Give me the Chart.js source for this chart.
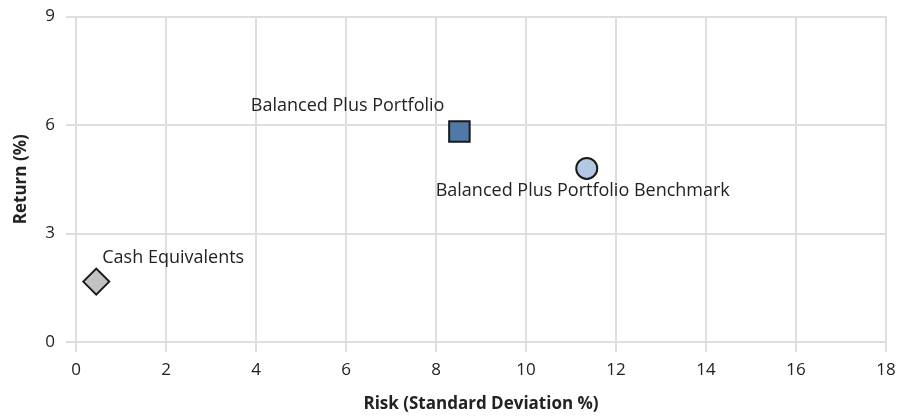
<!DOCTYPE html>
<html>
<head>
<meta charset="utf-8">
<script src="https://cdn.jsdelivr.net/npm/chart.js@4"></script>
<style>
  html, body { margin: 0; padding: 0; background: #fff; }
  #wrap { width: 908px; height: 417px; }
</style>
</head>
<body>
<div id="wrap"><canvas id="chart" width="908" height="417"></canvas></div>
<script>
  // values
  const names = ["Balanced Plus Portfolio", "Balanced Plus Portfolio Benchmark", "Cash Equivalents"];
  const risk = [8.52, 11.35, 0.45];
  const returns = [5.82, 4.8, 1.67];
  const xTicks = [0, 2, 4, 6, 8, 10, 12, 14, 16, 18];
  const yTicks = [0, 3, 6, 9];

  // styling
  const shapes = ["rect", "circle", "rectRot"];
  const radii = [14.5, 10.5, 13];
  const fills = ["#4f7aa8", "#b3c8e2", "#c2c2c2"];
  const labelPlace = [
    { align: "right", dx: -15, dy: -26 },
    { align: "center", dx: -4, dy: 22 },
    { align: "left", dx: 6, dy: -24 }
  ];

  const font = "'Open Sans', 'DejaVu Sans', sans-serif";
  const gridColor = "#dedede";

  const pointLabels = {
    id: "pointLabels",
    afterDatasetsDraw(chart) {
      const ctx = chart.ctx;
      const meta = chart.getDatasetMeta(0);
      ctx.save();
      ctx.font = "18px " + font;
      ctx.fillStyle = "#222";
      ctx.textBaseline = "middle";
      meta.data.forEach((pt, i) => {
        const p = labelPlace[i];
        ctx.textAlign = p.align;
        ctx.fillText(names[i], pt.x + p.dx, pt.y + p.dy);
      });
      ctx.restore();
    }
  };

  new Chart(document.getElementById("chart"), {
    type: "scatter",
    data: {
      datasets: [{
        data: risk.map((r, i) => ({ x: r, y: returns[i] })),
        pointStyle: shapes,
        pointRadius: radii,
        pointHoverRadius: radii,
        backgroundColor: fills,
        borderColor: "#1a1a1a",
        borderWidth: 2
      }]
    },
    options: {
      responsive: false,
      animation: false,
      layout: { padding: { top: 16, right: 22, left: 0, bottom: 0 } },
      plugins: { legend: { display: false }, tooltip: { enabled: false } },
      scales: {
        x: {
          min: 0,
          max: 18,
          afterBuildTicks: (s) => { s.ticks = xTicks.map((v) => ({ value: v })); },
          afterFit: (s) => { s.height = 75; s.paddingLeft = 0; s.paddingRight = 0; },
          grid: { color: gridColor, lineWidth: 2, tickLength: 10 },
          border: { display: false },
          ticks: { color: "#222", font: { family: font, size: 17 }, padding: 8 },
          title: {
            display: true,
            text: "Risk (Standard Deviation %)",
            color: "#222",
            font: { family: font, size: 17, weight: "bold" },
            padding: { top: 3, bottom: 3 }
          }
        },
        y: {
          min: 0,
          max: 9,
          afterBuildTicks: (s) => { s.ticks = yTicks.map((v) => ({ value: v })); },
          afterFit: (s) => { s.width = 76; s.paddingTop = 0; s.paddingBottom = 0; },
          grid: { color: gridColor, lineWidth: 2, tickLength: 10 },
          border: { display: false },
          ticks: { color: "#222", font: { family: font, size: 17 }, padding: 11 },
          title: {
            display: true,
            text: "Return (%)",
            color: "#222",
            font: { family: font, size: 17, weight: "bold" },
            padding: { top: 11, bottom: 11 }
          }
        }
      }
    },
    plugins: [pointLabels]
  });
</script>
</body>
</html>
